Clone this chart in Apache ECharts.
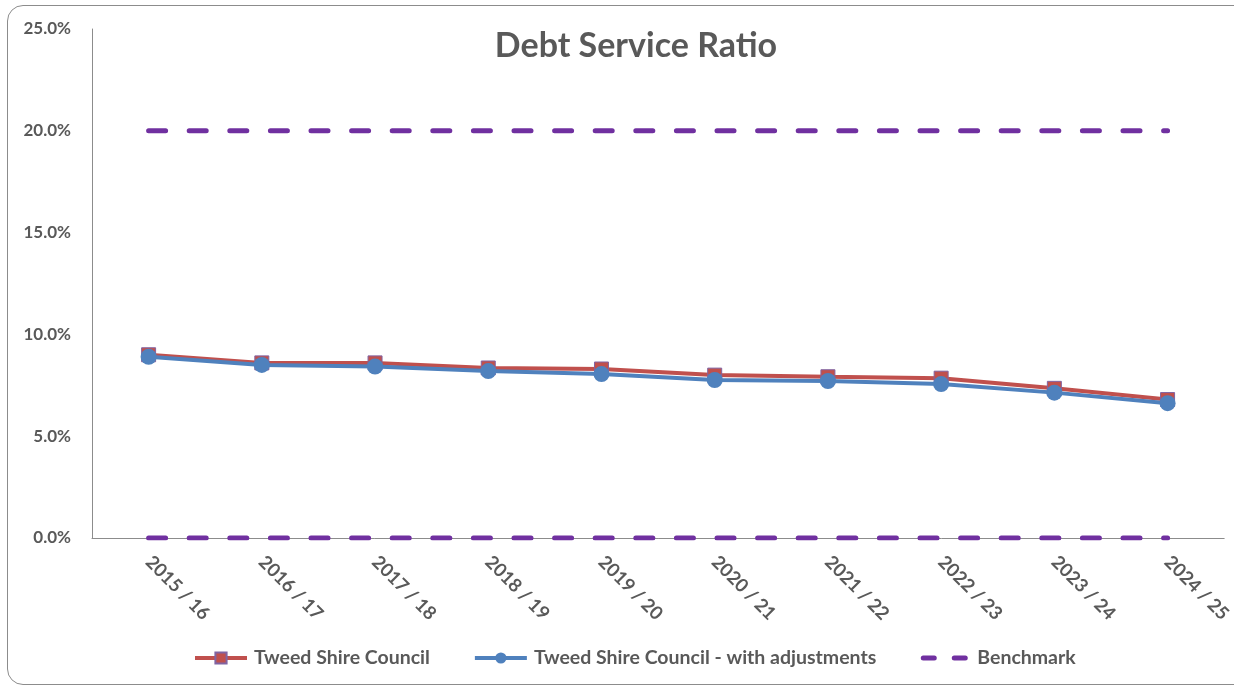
<!DOCTYPE html>
<html>
<head>
<meta charset="utf-8">
<script src="https://cdn.jsdelivr.net/npm/echarts@6/dist/echarts.min.js"></script>
<style>
html,body{margin:0;padding:0;background:#fff;overflow:hidden;}
#frame{position:absolute;left:7px;top:5px;width:1260px;height:680px;border:1.5px solid #8c8c8c;border-radius:16px;box-sizing:border-box;}
#chart{position:absolute;left:0;top:0;width:1234px;height:686px;}
</style>
</head>
<body>
<div id="frame"></div>
<div id="chart"></div>
<script>
const categories = ['2015 / 16','2016 / 17','2017 / 18','2018 / 19','2019 / 20','2020 / 21','2021 / 22','2022 / 23','2023 / 24','2024 / 25'];
const tweedValues = [9.0, 8.6, 8.6, 8.35, 8.3, 8.0, 7.92, 7.85, 7.35, 6.8];
const adjustedValues = [8.9, 8.5, 8.42, 8.2, 8.05, 7.76, 7.71, 7.56, 7.14, 6.62];
const benchmarkUpper = [20, 20, 20, 20, 20, 20, 20, 20, 20, 20];
const benchmarkLower = [0, 0, 0, 0, 0, 0, 0, 0, 0, 0];

const FONT = 'Lato';
const TXT = '#595959';
const chart = echarts.init(document.getElementById('chart'), null, {renderer:'canvas'});
const benchStyle = {color:'#7030A0', width:5, type:[17,23.6], cap:'round'};
const benchIcon = 'path://M0,0h0.01v0.01h-0.01z M50,13.99h0.01v0.01h-0.01z M4,4.5h11a2.5,2.5 0 0 1 0,5h-11a2.5,2.5 0 0 1 0,-5z M35,4.5h11a2.5,2.5 0 0 1 0,5h-11a2.5,2.5 0 0 1 0,-5z';
chart.setOption({
  animation:false,
  title:{text:'Debt Service Ratio', left:631, top:24, textAlign:'center',
    textStyle:{fontFamily:FONT, fontSize:34, fontWeight:'bold', color:TXT}},
  grid:{left:92, right:2, top:29, bottom:148, containLabel:false},
  legend:{bottom:13, left:188, itemWidth:52, itemHeight:14, itemGap:43,
    lineStyle:{width:4},
    textStyle:{fontFamily:FONT, fontSize:19.5, fontWeight:'bold', color:TXT, padding:[0,0,0,2]},
    data:['Tweed Shire Council','Tweed Shire Council - with adjustments',{name:'Benchmark', icon:benchIcon}]},
  xAxis:{type:'category', data:categories, boundaryGap:true,
    axisLine:{lineStyle:{color:'#8c8c8c', width:1}},
    axisTick:{show:false},
    axisLabel:{rotate:-45, margin:21, fontFamily:FONT, fontSize:18.5, fontWeight:'bold', color:TXT}},
  yAxis:{type:'value', min:0, max:25, interval:5,
    axisLine:{show:true, lineStyle:{color:'#8c8c8c', width:1}},
    axisTick:{show:false},
    splitLine:{show:false},
    axisLabel:{margin:21, fontFamily:FONT, fontSize:17, fontWeight:'bold', color:TXT,
      formatter:v=>v.toFixed(1)+'%'}},
  series:[
    {name:'Benchmark', type:'line', data:benchmarkUpper, symbol:'none', lineStyle:benchStyle, itemStyle:{color:'#7030A0'}, z:1},
    {name:'Benchmark', type:'line', data:benchmarkLower, symbol:'none', lineStyle:benchStyle, itemStyle:{color:'#7030A0'}, z:1},
    {name:'Tweed Shire Council', type:'line', data:tweedValues, symbol:'rect', symbolSize:14,
      lineStyle:{color:'#C0504D', width:4}, itemStyle:{color:'#C0504D', borderColor:'#8064A2', borderWidth:1}, z:2},
    {name:'Tweed Shire Council - with adjustments', type:'line', data:adjustedValues, symbol:'circle', symbolSize:16,
      lineStyle:{color:'#4F81BD', width:4}, itemStyle:{color:'#4F81BD'}, z:3}
  ]
});
</script>
</body>
</html>
